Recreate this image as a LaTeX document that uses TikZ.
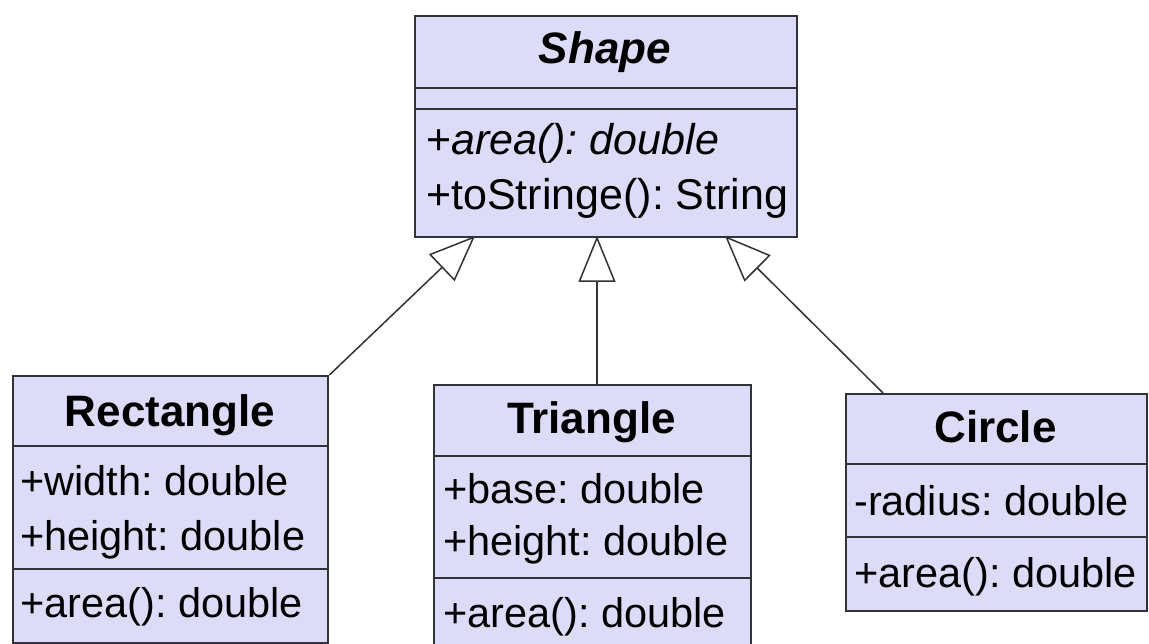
\documentclass[tikz,border=0pt]{standalone}
\usepackage{fontspec}
\setmainfont{Liberation Sans}
\usetikzlibrary{arrows.meta}
\definecolor{classfill}{RGB}{220,220,248}
\definecolor{edgecol}{RGB}{50,50,55}
\frenchspacing
\begin{document}
\begin{tikzpicture}[x=1pt,y=-1pt,
  classbox/.style={draw=edgecol, line width=2.4pt, fill=classfill, anchor=north west, inner sep=0pt},
  sepline/.style={draw=edgecol, line width=2.4pt},
  member/.style={anchor=base west, inner sep=0pt, font=\frenchspacing\fontsize{41.5}{50}\selectfont, text=black},
  bigmember/.style={member, font=\frenchspacing\fontsize{43}{50}\selectfont},
  title/.style={anchor=base, inner sep=0pt, font=\fontsize{44}{50}\selectfont\bfseries, text=black},
  inherit/.style={draw=edgecol, line width=1.5pt, -{Triangle[open, length=46pt, width=37pt, fill=white]}}
]
\useasboundingbox (0,0) rectangle (1149,644);
\fill[white] (0,0) rectangle (1149,644);
\clip (0,0) rectangle (1149,644);

% Shape
\node[classbox, minimum width=382pt, minimum height=221pt] (shape) at (414,15) {};
\draw[sepline] ([yshift=-73pt]shape.north west) -- ([yshift=-73pt]shape.north east);
\draw[sepline] ([yshift=-94pt]shape.north west) -- ([yshift=-94pt]shape.north east);
\node[title] (shapeT) at (605,64) {\itshape Shape};
\node[bigmember] (shapeM1) at (426,155) {+\textit{area(): double}};
\node[bigmember] (shapeM2) at (426,210) {+toStringe(): String};

% Rectangle
\node[classbox, minimum width=315pt, minimum height=267pt] (rect) at (12,375) {};
\draw[sepline] ([yshift=-71pt]rect.north west) -- ([yshift=-71pt]rect.north east);
\draw[sepline] ([yshift=-194pt]rect.north west) -- ([yshift=-194pt]rect.north east);
\node[title] (rectT) at (170,426) {Rectangle};
\node[member] (rectA1) at (20,495) {+width: double};
\node[member] (rectA2) at (20,550) {+height: double};
\node[member] (rectM1) at (20,617) {+area(): double};

% Triangle
\node[classbox, minimum width=317pt, minimum height=290pt] (tri) at (433,384) {};
\draw[sepline] ([yshift=-72pt]tri.north west) -- ([yshift=-72pt]tri.north east);
\draw[sepline] ([yshift=-194pt]tri.north west) -- ([yshift=-194pt]tri.north east);
\node[title] (triT) at (591.5,433) {Triangle};
\node[member] (triA1) at (443,503) {+base: double};
\node[member] (triA2) at (443,555) {+height: double};
\node[member] (triM1) at (443,627) {+area(): double};

% Circle
\node[classbox, minimum width=301pt, minimum height=217pt] (circ) at (845,393) {};
\draw[sepline] ([yshift=-71pt]circ.north west) -- ([yshift=-71pt]circ.north east);
\draw[sepline] ([yshift=-144pt]circ.north west) -- ([yshift=-144pt]circ.north east);
\node[title] (circT) at (995.5,442) {Circle};
\node[member] (circA1) at (854,515) {-radius: double};
\node[member] (circM1) at (854,587) {+area(): double};

% connector end points
\coordinate (tipA) at (475,236);
\coordinate (tipB) at (597,236);
\coordinate (tipC) at (725,236);
\coordinate (triTop) at (597,384);
\coordinate (circTop) at (883,393);

\draw[inherit] (rect.north east) -- (tipA);
\draw[inherit] (triTop) -- (tipB);
\draw[inherit] (circTop) -- (tipC);
\end{tikzpicture}
\end{document}
